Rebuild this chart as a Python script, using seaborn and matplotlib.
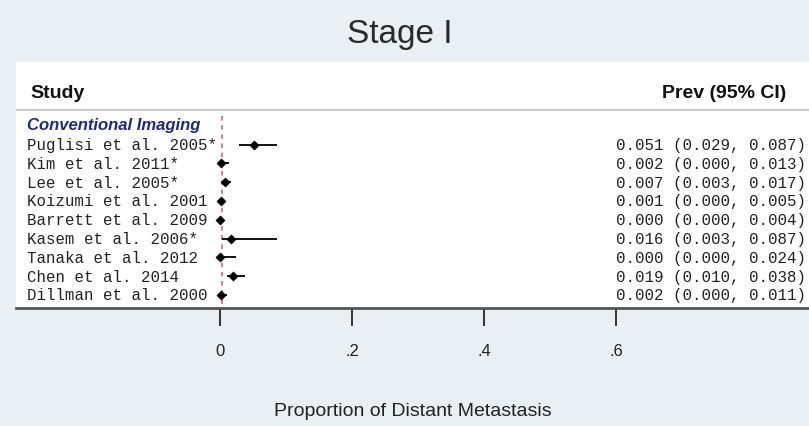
import pandas as pd
import seaborn as sns
import matplotlib.pyplot as plt

# Study data
studies = ["Puglisi et al. 2005*", "Kim et al. 2011*", "Lee et al. 2005*",
           "Koizumi et al. 2001", "Barrett et al. 2009", "Kasem et al. 2006*",
           "Tanaka et al. 2012", "Chen et al. 2014", "Dillman et al. 2000"]
prev = [0.051, 0.002, 0.007, 0.001, 0.000, 0.016, 0.000, 0.019, 0.002]
lower = [0.029, 0.000, 0.003, 0.000, 0.000, 0.003, 0.000, 0.010, 0.000]
upper = [0.087, 0.013, 0.017, 0.005, 0.004, 0.087, 0.024, 0.038, 0.011]
pooled = 0.003
xticks = [0, 0.2, 0.4, 0.6]
xtick_labels = ["0", ".2", ".4", ".6"]

df = pd.DataFrame({"study": studies, "prev": prev, "lo": lower, "hi": upper})
df["row"] = range(len(df))

sns.set_style("white")
bg = "#e9eff3"

fig = plt.figure(figsize=(8.09, 4.27), dpi=100, facecolor=bg)
ax = fig.add_axes([16 / 809, 1 - 309 / 427, 1 - 16 / 809, (309 - 63) / 427])
ax.set_facecolor("white")

# CI lines and point estimates
ax.hlines(df["row"], df["lo"], df["hi"], color="black", lw=1.3, zorder=3)
sns.scatterplot(data=df, x="prev", y="row", marker="D", s=22, color="black",
                edgecolor="black", zorder=4, ax=ax, legend=False)

# pooled reference line
ax.plot([pooled, pooled], [-1.55, 8.7], color="#d05a6a", lw=1.1,
        ls=(0, (3, 3)), zorder=2)

ax.set_xlim((16 - 220) / 660, (809 - 220) / 660)
ax.set_ylim(8.7, -4.4)

# header
ax.text((30 - 220) / 660, -2.8, "Study", fontsize=14, fontweight="bold",
        family="Liberation Sans", color="#111111", va="center", ha="left")
ax.text((786 - 220) / 660, -2.8, "Prev (95% CI)", fontsize=14, fontweight="bold",
        family="Liberation Sans", color="#111111", va="center", ha="right")
ax.axhline(-1.85, color="#c8c8c8", lw=1.5)
ax.text((27 - 220) / 660, -1.05, "Conventional Imaging", fontsize=12,
        fontweight="bold", style="italic", family="Liberation Sans",
        color="#1d2a80", va="center", ha="left")

# study labels and estimates
for i, r in df.iterrows():
    ax.text((27 - 220) / 660, r["row"], r["study"], fontsize=11.3,
            family="Liberation Mono", color="#222222", va="center", ha="left")
    txt = f"{r['prev']:.3f} ({r['lo']:.3f}, {r['hi']:.3f})"
    ax.text((806 - 220) / 660, r["row"], txt, fontsize=11.3,
            family="Liberation Mono", color="#222222", va="center", ha="right")

# axis styling
for s in ["top", "left", "right"]:
    ax.spines[s].set_visible(False)
ax.spines["bottom"].set_color("#555555")
ax.spines["bottom"].set_linewidth(2)
ax.set_yticks([])
ax.set_ylabel("")
ax.set_xticks(xticks)
ax.set_xticklabels(xtick_labels, family="Liberation Sans", fontsize=12,
                   color="#222222")
ax.tick_params(axis="x", direction="out", length=13, width=1.4,
               color="#333333", pad=12, bottom=True)
ax.set_xlabel("Proportion of Distant Metastasis", family="Liberation Sans",
              fontsize=14, color="#222222", labelpad=32)

fig.text(400 / 809, 1 - 35 / 427, "Stage I", family="Liberation Sans",
         fontsize=24, color="#2a2a2a", ha="center", va="center")

fig.savefig("out.png", dpi=100, facecolor=bg)
